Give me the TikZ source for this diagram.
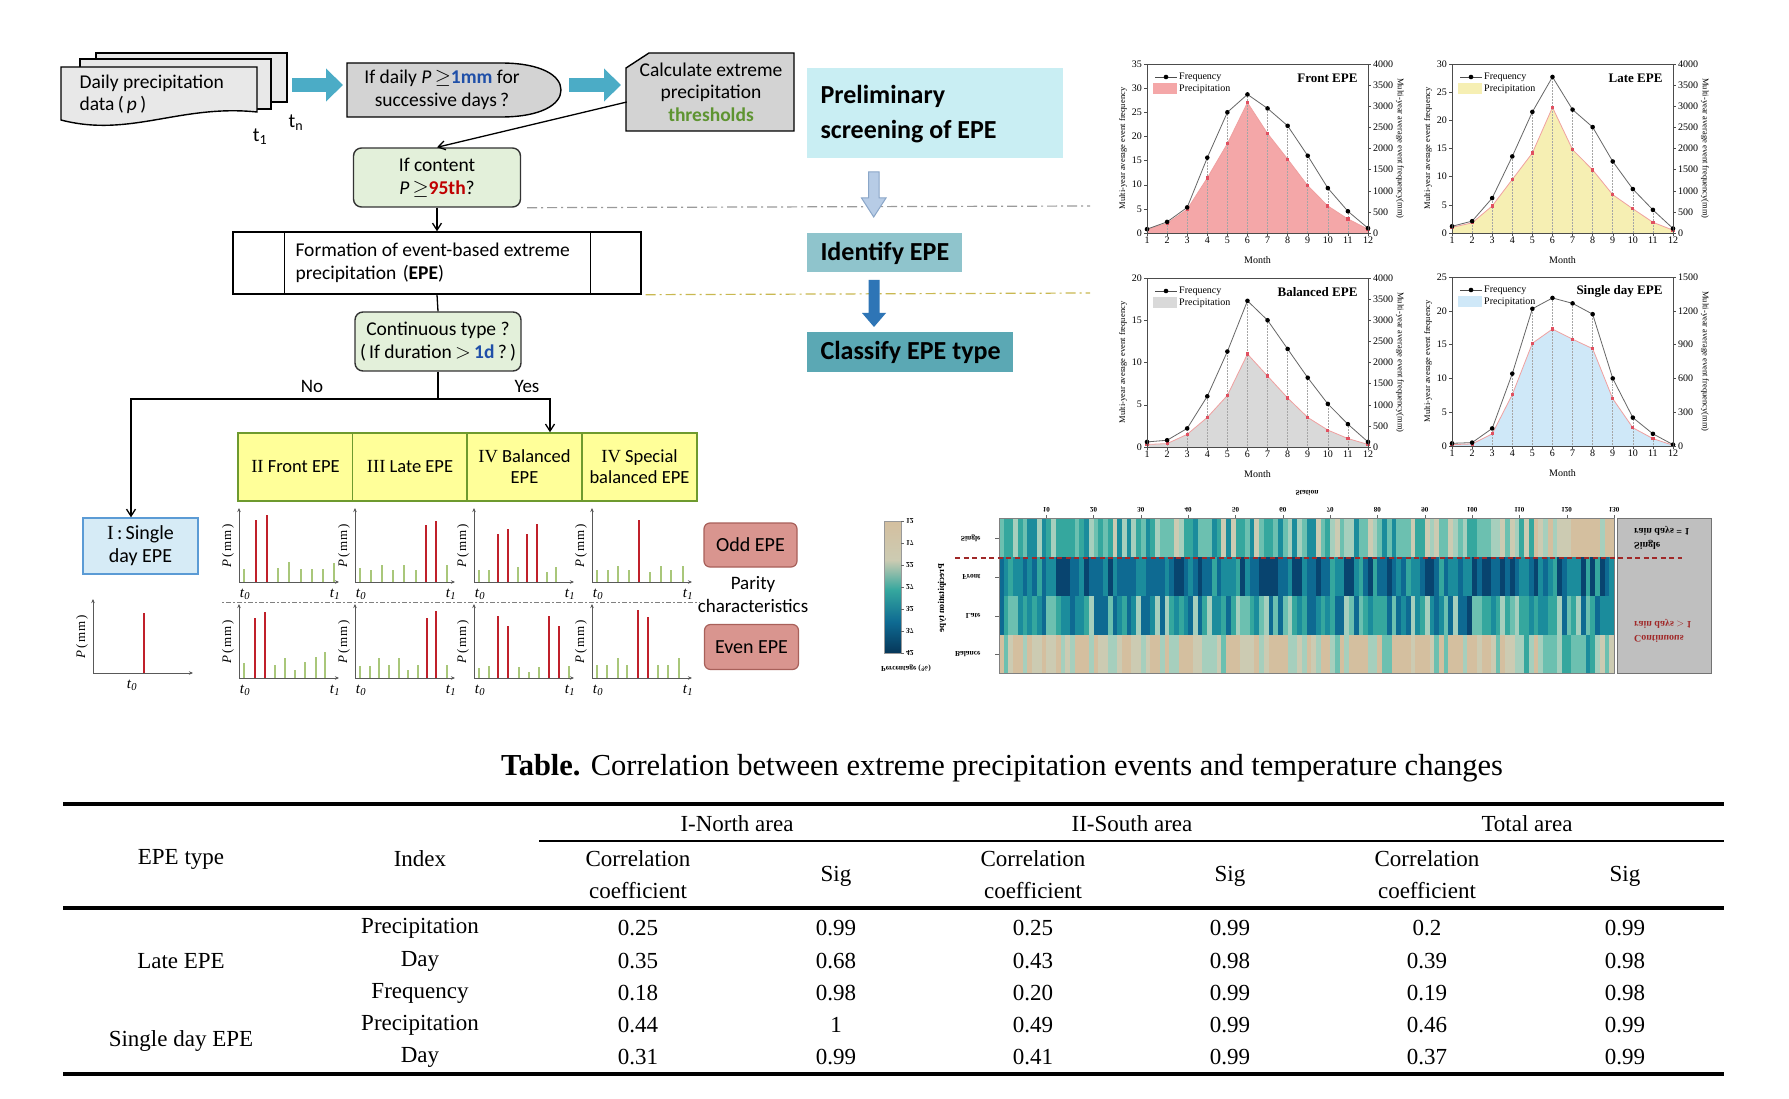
\documentclass[tikz,border=0pt]{standalone}
\usepackage{fontspec}
\setmainfont{Carlito}
\newfontfamily\tnr{Liberation Serif}
\usetikzlibrary{arrows.meta}
\newcommand\fs[2]{\fontsize{#1}{#2}\selectfont}
\definecolor{arrblue}{HTML}{4BACC6}
\definecolor{boxgray}{HTML}{D3D3D3}
\definecolor{boxgreen}{HTML}{E3F0DA}
\definecolor{yel}{HTML}{FFFF99}
\definecolor{ygreen}{HTML}{6E9A2E}
\definecolor{sfill}{HTML}{D6EBF6}
\definecolor{sblue}{HTML}{5B9BD5}
\definecolor{oddf}{HTML}{D9958F}
\definecolor{oddb}{HTML}{A8605A}
\definecolor{blue1}{HTML}{1F4FA8}
\definecolor{red95}{HTML}{C00000}
\definecolor{thgreen}{HTML}{5E9431}
\definecolor{prelim}{HTML}{C9EEF3}
\definecolor{ident}{HTML}{8FC4CC}
\definecolor{classif}{HTML}{5BA8B4}
\definecolor{hollowf}{HTML}{B7CCE6}
\definecolor{hollowd}{HTML}{8AA6C8}
\definecolor{solidb}{HTML}{2E75B6}
\definecolor{barred}{HTML}{C0202A}
\definecolor{bargreen}{HTML}{A9C77A}
\definecolor{dashgray}{HTML}{9A9A9A}
\definecolor{dashyel}{HTML}{C9B850}
\definecolor{frontf}{HTML}{F4A7A8}
\definecolor{latef}{HTML}{F6EFB3}
\definecolor{balf}{HTML}{D9D9D9}
\definecolor{singf}{HTML}{CFE8F8}
\definecolor{pinkl}{HTML}{F0A0A0}
\definecolor{markred}{HTML}{E05060}
\definecolor{hm0}{HTML}{D4BF9F}
\definecolor{hm1}{HTML}{CCCBB2}
\definecolor{hm2}{HTML}{A6CFBD}
\definecolor{hm3}{HTML}{6CC0B0}
\definecolor{hm4}{HTML}{35A79E}
\definecolor{hm5}{HTML}{1B8C9C}
\definecolor{hm6}{HTML}{0E6A92}
\definecolor{hm7}{HTML}{08446F}
\definecolor{darkred}{HTML}{A02828}

% chart macro
\newcommand\epechart[9]{%
\begin{scope}[shift={(#1,#2)}]
 \pgfmathsetmacro\pone{{#8}[0]}
 \pgfmathsetmacro\fone{{#7}[0]}
 \fill[#4] (0,169) \foreach \v [count=\m] in {#8} { -- ({(\m-1)*221/11},{169-\v*169/#3}) } -- (221,169) -- cycle;
 \foreach \v [count=\m] in {#7} \draw[black!35, densely dotted, line width=0.5pt] ({(\m-1)*221/11},169) -- ({(\m-1)*221/11},{169-\v*169/#3});
 \draw[#5, line width=0.8pt] (0,{169-\pone*169/#3}) \foreach \v [count=\m] in {#8} { -- ({(\m-1)*221/11},{169-\v*169/#3}) };
 \foreach \v [count=\m] in {#8} \fill[markred] ({(\m-1)*221/11-1.6},{169-\v*169/#3-1.6}) rectangle ++(3.2,3.2);
 \draw[black!60, line width=0.8pt] (0,{169-\fone*169/#3}) \foreach \v [count=\m] in {#7} { -- ({(\m-1)*221/11},{169-\v*169/#3}) };
 \foreach \v [count=\m] in {#7} \fill[black] ({(\m-1)*221/11},{169-\v*169/#3}) circle (2.3);
 \draw[black!70, line width=0.9pt] (0,0) rectangle (221,169);
 \foreach \t in {0,5,...,#3} {
   \draw[black!70] (0,{169-\t*169/#3}) -- ++(-3,0);
   \node[anchor=east, inner sep=1pt, font=\tnr\fs{10}{11}] at (-4,{169-\t*169/#3}) {\t};
 }
 \foreach \r [count=\k] in {#9} {\xdef\nr{\k}}
 \foreach \r [count=\k] in {#9} {
   \pgfmathsetmacro\yy{169-(\k-1)*169/(\nr-1)}
   \draw[black!70] (221,\yy) -- ++(3,0);
   \node[anchor=west, inner sep=1pt, font=\tnr\fs{10}{11}] at (225,\yy) {\r};
 }
 \foreach \m in {1,...,12} {
   \draw[black!70] ({(\m-1)*221/11},169) -- ++(0,3);
   \node[anchor=north, inner sep=1pt, font=\tnr\fs{10}{11}] at ({(\m-1)*221/11},172) {\m};
 }
 \node[font=\tnr\fs{10}{11}] at (110.5,196) {Month};
 \node[rotate=90, font=\tnr\fs{8.5}{10}] at (-24,84.5) {Multi-year average event frequency};
 \node[rotate=-90, font=\tnr\fs{8.5}{10}] at (253,84.5) {Multi-year average event frequency(mm)};
 \draw[black!70, line width=0.7pt] (8,13) -- (30,13);
 \fill (19,13) circle (2.3);
 \node[anchor=west, inner sep=1pt, font=\tnr\fs{10}{11}] at (31,13) {Frequency};
 \fill[#4] (6,19) rectangle (30,30);
 \node[anchor=west, inner sep=1pt, font=\tnr\fs{10}{11}] at (31,25) {Precipitation};
 \node[anchor=east, font=\tnr\bfseries\fs{13}{14}] at (214,14) {#6};
\end{scope}}

% small bar plot macro: #1 x, #2 base, #3 bars, #4 t0 offset, #5 t1 text
\newcommand\barplot[5]{%
\begin{scope}[shift={(#1,#2)}]
 \foreach \rx/\h/\c in {#3} { \draw[bar\c] (\rx,0) -- (\rx,-\h); }
 \draw[black!65, line width=0.8pt, -{Stealth[length=4pt,width=3.5pt]}] (0,0) -- (0,-74);
 \draw[black!65, line width=0.8pt, -{Stealth[length=4pt,width=3.5pt]}] (0,0) -- (100,0);
 \node[rotate=90, font=\tnr\fs{13}{14}] at (-11,-36) {\textit{P}\,(\,mm\,)};
 \node[font=\tnr\fs{15}{16}] at (#4,12) {\textit{t}\textsubscript{\textit{0}}};
 \node[font=\tnr\fs{15}{16}] at (96,12) {#5};
\end{scope}}

\begin{document}
\begin{tikzpicture}[x=1pt,y=-1pt,
  flow/.style={font=\fs{19.5}{22.5}, align=center},
  gbox/.style={draw=black!80, line width=1.4pt, rounded corners=8pt, fill=boxgreen, font=\fs{19.5}{22.5}, align=center, inner sep=0pt},
  ybox/.style={draw=ygreen, line width=1.5pt, fill=yel, minimum height=68pt, minimum width=115pt, inner sep=0pt, align=center, font=\fs{18.5}{21}},
  arr/.style={line width=1.3pt, -{Straight Barb[length=7pt,width=9pt]}},
  ln/.style={line width=1.3pt},
  docsty/.style={draw=black, line width=1.4pt, fill=black!9},
  fatarrow/.style={arrblue, line width=14pt, -{Triangle[length=17pt,width=32pt]}},
  dashdotg/.style={dashgray, line width=1.2pt, dash pattern=on 10pt off 4pt on 2pt off 4pt},
  dashdoty/.style={dashyel, line width=1.2pt, dash pattern=on 10pt off 4pt on 2pt off 4pt},
  barr/.style={draw=barred, line width=2.2pt},
  barg/.style={draw=bargreen, line width=1.4pt},
  tabtxt/.style={font=\tnr\fs{23}{32}, align=center},
  hmtxt/.style={font=\tnr\bfseries\fs{7.5}{8.5}}]
\useasboundingbox (0,0) rectangle (1789,1099);
\fill[white] (0,0) rectangle (1789,1099);

% ---------- flowchart top ----------
\draw[docsty] (96,53) rectangle (287,102);
\draw[docsty] (80,59) rectangle (271,109);
\draw[docsty] (61,67) -- (257,67) -- (257,112) .. controls (180,104) and (130,138) .. (61,120) -- cycle;
\node[anchor=west, align=left, font=\fs{19.5}{22}] (docs) at (76,94) {Daily precipitation\\data\,(\,\textit{p}\,)};
\node[font=\fs{20}{22}] (t1) at (260,137) {t\textsubscript{1}};
\node[font=\fs{20}{22}] (tn) at (296,123) {t\textsubscript{n}};

\node[minimum width=214pt, minimum height=54pt, inner sep=0pt] (ifd) at (454,90) {};
\draw[line width=1.4pt, fill=boxgray] (347,63) -- (501,63) .. controls (540,63) and (561,75) .. (561,90) .. controls (561,105) and (540,117) .. (501,117) -- (347,117) -- cycle;
\node[flow] (ifdtxt) at (442,90) {If daily \textit{P}\,$\geq$\textcolor{blue1}{\textbf{1mm}} for\\successive days\,?};

\coordinate (a1s) at (292,85);
\coordinate (a1e) at (343,85);
\draw[fatarrow] (a1s) -- (a1e);
\coordinate (a2s) at (569,85);
\coordinate (a2e) at (621,85);
\draw[fatarrow] (a2s) -- (a2e);

\draw[line width=1.4pt, fill=boxgray] (649,53) -- (794,53) -- (794,131) -- (626,131) -- (626,68) -- cycle;
\node[flow, minimum width=168pt, minimum height=78pt, inner sep=0pt] (calc) at (711,92) {Calculate extreme\\precipitation\\\textcolor{thgreen}{\textbf{thresholds}}};

\node[gbox, minimum width=167pt, minimum height=59pt] (ifc) at (437,177.5) {If content\\\textit{P}\,$\geq$\textcolor{red95}{\textbf{95th}}?};
\draw[arr] ([yshift=-10pt]calc.west) -- (ifc.north);

% dash-dot separators
\draw[dashdotg] ([xshift=6pt]ifc.south east) -- (1090,206);
\node[draw, line width=1.4pt, minimum width=408pt, minimum height=62pt, inner sep=0pt] (form) at (437,263) {};
\draw[dashdoty] ([xshift=4pt]form.south east) -- (1090,293);
\draw[line width=1.4pt] ([xshift=52pt]form.north west) -- ([xshift=52pt]form.south west);
\draw[line width=1.4pt] ([xshift=-51pt]form.north east) -- ([xshift=-51pt]form.south east);
\node[anchor=west, align=left, font=\fs{19.5}{23}] (formtxt) at (292,263) {Formation of event-based extreme\\precipitation\,\,(\textbf{EPE})};
\draw[arr] (ifc.south) -- (form.north);

\node[gbox, minimum width=166pt, minimum height=59pt] (cont) at (438,341.5) {Continuous type ?\\(\,If duration\,$>$\,\textcolor{blue1}{\textbf{1d}}\,?\,)};
\draw[ln] (form.south) -- (cont.north);

\node[draw=sblue, fill=sfill, line width=1.4pt, minimum width=115pt, minimum height=56pt, inner sep=0pt, align=center, font=\fs{20}{23}] (single) at (140.5,546) {{\tnr I}\,:\,Single\\day EPE};
\node[ybox] (y1) at (295.5,467) {{\tnr II} Front EPE};
\node[ybox] (y2) at (410,467) {{\tnr III} Late EPE};
\node[ybox] (y3) at (524.5,467) {{\tnr IV} Balanced\\EPE};
\node[ybox] (y4) at (639.5,467) {{\tnr IV} Special\\balanced EPE};

\coordinate (j) at (438,399);
\coordinate (jl) at (131,399);
\coordinate (jr) at (550,399);
\draw[ln] (cont.south) -- (j);
\draw[arr] (j) -- (jl) -- (jl |- single.north);
\draw[arr] (j) -- (jr) -- (jr |- y3.north);
\node[font=\fs{19}{21}] (no) at (312,386) {No};
\node[font=\fs{19}{21}] (yes) at (527,386) {Yes};

% small plots
\draw[black!50, line width=0.8pt, dash pattern=on 2pt off 2pt on 5pt off 2pt] (222,602) -- (700,602);
\barplot{239}{582}{5/13/g,17/62/r,28/67/r,39/14/g,50/20/g,62/13/g,73/13/g,84/13/g,95/19/g}{6}{\textit{t}\textsubscript{\textit{1}}}
\barplot{355}{582}{5/14/g,16/12/g,27/17/g,38/12/g,49/17/g,61/12/g,71/57/r,81/61/r,92/17/g}{6}{\textit{t}\textsubscript{\textit{1}}}
\barplot{474}{582}{5/12/g,15/12/g,24/48/r,34/53/r,44/15/g,53/48/r,63/58/r,73/10/g,82/15/g}{6}{\textit{t}\textsubscript{\textit{1}}}
\barplot{592}{582}{5/12/g,16/12/g,26/16/g,37/12/g,47/62/r,58/10/g,69/16/g,79/12/g,91/16/g}{6}{\textit{t}\textsubscript{\textit{1}}}
\barplot{239}{678}{5/15/g,16/60/r,26/66/r,36/13/g,46/20/g,56/8/g,66/16/g,77/21/g,86/26/g}{6}{\textit{t}\textsubscript{\textit{1}}}
\barplot{355}{678}{5/12/g,15/12/g,24/20/g,34/13/g,44/20/g,53/8/g,63/13/g,72/60/r,81/67/r,92/13/g}{6}{\textit{t}\textsubscript{\textit{1}}}
\barplot{474}{678}{5/10/g,15/12/g,24/62/r,34/52/r,45/11/g,55/6/g,65/11/g,75/62/r,85/52/r,95/12/g}{6}{\textit{t}\textsubscript{\textit{1}}}
\barplot{592}{678}{5/13/g,15/13/g,26/20/g,35/13/g,46/68/r,56/61/r,66/13/g,76/13/g,87/20/g}{6}{\textit{t}\textsubscript{\textit{1}}}
\barplot{93}{673}{51/60/r}{39}{}

\node[draw=oddb, fill=oddf, line width=1.2pt, rounded corners=6pt, minimum width=93pt, minimum height=44pt, font=\fs{20}{22}] (odd) at (750.5,545) {Odd EPE};
\node[draw=oddb, fill=oddf, line width=1.2pt, rounded corners=6pt, minimum width=94pt, minimum height=45pt, font=\fs{20}{22}] (even) at (751.5,647) {Even EPE};
\node[align=center, font=\fs{19}{23}] (parity) at (753,595) {Parity\\characteristics};

% ---------- middle column ----------
\node[fill=prelim, minimum width=256pt, minimum height=90pt, inner sep=0pt] (prelim) at (935,113) {};
\node[anchor=west, align=left, font=\bfseries\fs{26}{35}] at (817,114) {Preliminary\\screening of EPE};
\node[fill=ident, minimum width=155pt, minimum height=39pt, inner sep=0pt] (ident) at (884.5,252.5) {};
\node[anchor=west, font=\bfseries\fs{26}{28}] at (817,253) {Identify EPE};
\node[fill=classif, minimum width=206pt, minimum height=40pt, inner sep=0pt] (classif) at (910,352) {};
\node[anchor=west, font=\bfseries\fs{26}{28}] at (817,352) {Classify EPE type};
\draw[fill=hollowf, draw=hollowd, line width=1pt] (868.5,172) -- (879,172) -- (879,198) -- (886,198) -- (873.7,217) -- (861.5,198) -- (868.5,198) -- cycle;
\fill[solidb] (868.5,280) -- (879.5,280) -- (879.5,313) -- (886,313) -- (874,327) -- (862,313) -- (868.5,313) -- cycle;

% ---------- charts ----------
\epechart{1147}{64}{35}{frontf}{pinkl}{Front EPE}{0.8,2.3,5.3,15.6,25,28.7,25.8,22.2,16,9.3,4.5,1}{0.8,2.0,4.9,11.4,18.5,27,20.6,15.3,9.8,5.6,2.9,0.8}{0,500,1000,1500,2000,2500,3000,3500,4000}
\epechart{1452}{64}{30}{latef}{pinkl}{Late EPE}{1.2,2.1,6.2,13.6,21.5,27.7,21.9,18.8,12.7,7.8,4.1,0.8}{1.0,1.8,4.8,9.5,14.2,22.3,14.8,11.2,6.8,4.3,1.9,0.5}{0,500,1000,1500,2000,2500,3000,3500,4000}
\epechart{1147}{278}{20}{balf}{pinkl}{Balanced EPE}{0.6,0.8,2.2,6,11.3,17.3,15,11.6,8.2,5.1,2.7,0.6}{0.3,0.4,1.5,3.5,6.1,11,8.4,5.8,3.5,2,1,0.3}{0,500,1000,1500,2000,2500,3000,3500,4000}
\epechart{1452}{277}{25}{singf}{pinkl}{Single day EPE}{0.4,0.5,2.6,10.7,20.3,21.9,21.1,19.5,10,4.2,1.8,0.2}{0.2,0.3,1.8,7.6,15.2,17.3,15.8,14.4,7,2.7,1.1,0.1}{0,300,600,900,1200,1500}

% ---------- heatmap ----------
\pgfmathsetseed{7}
\foreach \row/\ya/\yb in {0/518/557,1/557/596,2/596/635,3/635/673}{
  \foreach \i in {0,...,129}{
    \pgfmathsetmacro\hb{ifthenelse(\row==0, ifthenelse(\i>112,0.03,0.45), ifthenelse(\row==1,0.8, ifthenelse(\row==2,0.6, ifthenelse(and(\i>110,\i<126),0.35,0.08))))}
    \pgfmathsetmacro\amp{ifthenelse(\row==1,0.2,0.33)}
    \pgfmathtruncatemacro\k{round(7*max(0,min(1,\hb+\amp*rand)))}
    \fill[hm\k] ({999+\i*4.7308},\ya) rectangle ({999.4+(\i+1)*4.7308},\yb);
  }
}
\draw[black!50, line width=0.6pt] (999,518) rectangle (1614,673);
\foreach \s in {10,20,...,130} {
  \draw[black!60] ({999+\s*4.7308},518) -- ++(0,-3);
  \node[font=\tnr\bfseries\fs{7}{8}] at ({999+\s*4.7308},510) {\scalebox{1}[-1]{\s}};
}
\node[hmtxt] at (1307,493) {\scalebox{1}[-1]{Station}};
\foreach \lab/\yy in {Single/538,Front/577,Late/616,Balance/654} {
  \draw[black!60] (995,\yy) -- (999,\yy);
  \node[hmtxt, anchor=east] at (984,\yy) {\scalebox{1}[-1]{\lab}};
}
\shade[top color=hm0, bottom color=hm1] (884,521) rectangle (901,560);
\shade[top color=hm1, bottom color=hm4] (884,560) rectangle (901,590);
\shade[top color=hm4, bottom color=hm6] (884,590) rectangle (901,622);
\shade[top color=hm6, bottom color=hm7!80!black] (884,622) rectangle (901,653);
\draw[black!40, line width=0.5pt] (884,521) rectangle (901,653);
\foreach \v [count=\k] in {12,17,22,27,32,37,42} {
  \draw[black!60] (901,{521+(\k-1)*22}) -- ++(3,0);
  \node[hmtxt, anchor=west, inner sep=1pt] at (905,{521+(\k-1)*22}) {\scalebox{1}[-1]{\v}};
}
\node[rotate=-90, font=\tnr\bfseries\fs{9}{10}] at (942,598) {\scalebox{1}[-1]{Precipitation type}};
\node[hmtxt] at (906,668) {\scalebox{1}[-1]{Percentage (\%)}};
\node[draw=black!55, fill=black!25, line width=1pt, minimum width=94pt, minimum height=155pt, inner sep=0pt] (gbx) at (1664,595.5) {};
\node[anchor=west, font=\tnr\bfseries\fs{10}{14}, inner sep=0pt] at (1634,538) {\scalebox{1}[-1]{\begin{tabular}{@{}l@{}}Single\\rain days = 1\end{tabular}}};
\node[anchor=west, font=\tnr\bfseries\fs{10}{14}, inner sep=0pt, text=darkred] at (1634,631) {\scalebox{1}[-1]{\begin{tabular}{@{}l@{}}Continuous\\rain days $>$ 1\end{tabular}}};
\draw[darkred, line width=1.1pt, dash pattern=on 5pt off 3.5pt] (955,558) -- (1682,558);

% ---------- table ----------
\node[font=\tnr\fs{30.5}{33}] (cap) at (1002,768) {\textbf{Table.} Correlation between extreme precipitation events and temperature changes};
\draw[line width=3.5pt] (63,804) -- (1724,804);
\draw[line width=2.4pt] (539,841) -- (1724,841);
\draw[line width=3.5pt] (63,908) -- (1724,908);
\draw[line width=3.5pt] (63,1074) -- (1724,1074);
\node[tabtxt] at (181,859) {EPE type};
\node[tabtxt] at (420,859) {Index};
\node[tabtxt] at (737,824) {I-North area};
\node[tabtxt] at (1132,824) {II-South area};
\node[tabtxt] at (1527,824) {Total area};
\foreach \cx in {638,1033,1427} \node[tabtxt] at (\cx,875) {Correlation\\coefficient};
\foreach \cx in {836,1230,1625} \node[tabtxt] at (\cx,876) {Sig};
\node[tabtxt] at (181,961) {Late EPE};
\node[tabtxt] at (181,1041) {Single day EPE};
\foreach \yy/\ix/\a/\b/\c/\d/\e/\f in {
  928/Precipitation/0.25/0.99/0.25/0.99/0.2/0.99,
  961/Day/0.35/0.68/0.43/0.98/0.39/0.98,
  993/Frequency/0.18/0.98/0.20/0.99/0.19/0.98,
  1025/Precipitation/0.44/1/0.49/0.99/0.46/0.99,
  1057/Day/0.31/0.99/0.41/0.99/0.37/0.99} {
  \node[tabtxt] at (420,\yy) {\ix};
  \node[tabtxt] at (638,\yy) {\a};
  \node[tabtxt] at (836,\yy) {\b};
  \node[tabtxt] at (1033,\yy) {\c};
  \node[tabtxt] at (1230,\yy) {\d};
  \node[tabtxt] at (1427,\yy) {\e};
  \node[tabtxt] at (1625,\yy) {\f};
}
\end{tikzpicture}
\end{document}
